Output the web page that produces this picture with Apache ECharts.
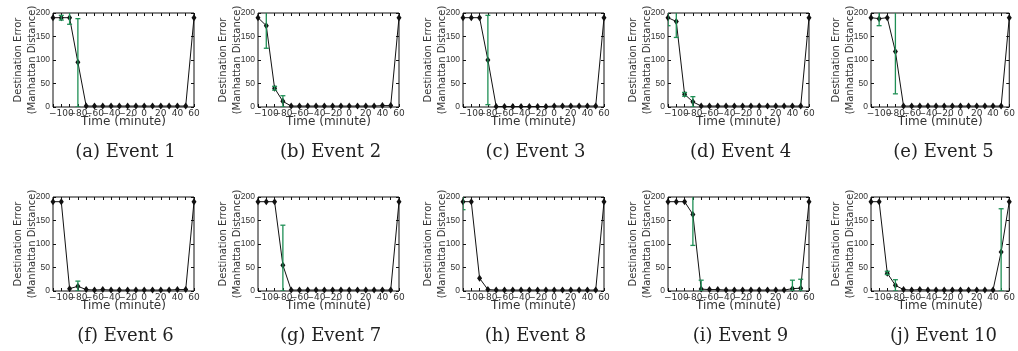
<!DOCTYPE html>
<html>
<head>
<meta charset="utf-8">
<script src="https://cdn.jsdelivr.net/npm/echarts@6/dist/echarts.min.js"></script>
<style>
html, body { margin: 0; padding: 0; background: #fff; }
#main { width: 1018px; height: 351px; }
</style>
</head>
<body>
<div id="main"></div>
<script>
// time offsets (minutes) shared by every panel
const minutes = [-110, -100, -90, -80, -70, -60, -50, -40, -30, -20, -10, 0, 10, 20, 30, 40, 50, 60];
const yTicks = [0, 50, 100, 150, 200];

// mean destination error per event
const ev1 = [190, 190, 190, 95, 2, 2, 2, 2, 2, 2, 2, 2, 2, 2, 2, 2, 2, 190];
const ev2 = [190, 173, 40, 12, 2, 2, 2, 2, 2, 2, 2, 2, 2, 2, 2, 3, 3, 190];
const ev3 = [190, 190, 190, 100, 1, 1, 1, 1, 1, 1, 1, 2, 2, 2, 2, 2, 2, 190];
const ev4 = [190, 182, 27, 11, 2, 2, 2, 2, 2, 2, 2, 2, 2, 2, 2, 2, 2, 190];
const ev5 = [190, 188, 190, 118, 2, 2, 2, 2, 2, 2, 2, 2, 2, 2, 2, 2, 2, 190];
const ev6 = [190, 190, 5, 10, 3, 2, 3, 2, 2, 2, 2, 2, 2, 2, 2, 3, 3, 190];
const ev7 = [190, 190, 190, 55, 2, 2, 2, 2, 2, 2, 2, 2, 2, 2, 2, 2, 2, 190];
const ev8 = [190, 190, 27, 3, 2, 2, 2, 2, 2, 2, 2, 2, 2, 2, 2, 2, 2, 190];
const ev9 = [190, 190, 190, 163, 4, 3, 3, 2, 2, 2, 2, 2, 2, 2, 2, 5, 6, 190];
const ev10 = [190, 190, 38, 12, 3, 2, 3, 2, 2, 2, 2, 2, 2, 2, 2, 2, 83, 190];

// error bars: [minute, low, high]
const err1 = [[-100, 185, 195], [-90, 176, 215], [-80, 0, 188]];
const err2 = [[-100, 125, 220], [-90, 36, 44], [-80, 0, 24]];
const err3 = [[-80, 5, 195]];
const err4 = [[-110, 173, 207], [-100, 148, 216], [-90, 23, 31], [-80, 0, 22]];
const err5 = [[-100, 173, 203], [-80, 28, 208]];
const err6 = [[-80, 0, 21]];
const err7 = [[-80, 0, 140]];
const err8 = [[-110, 173, 207]];
const err9 = [[-80, 97, 230], [-70, 0, 23], [40, 0, 23], [50, 0, 25]];
const err10 = [[-90, 35, 42], [-80, 0, 24], [50, 0, 175]];

const captions = ['(a) Event 1', '(b) Event 2', '(c) Event 3', '(d) Event 4', '(e) Event 5',
                  '(f) Event 6', '(g) Event 7', '(h) Event 8', '(i) Event 9', '(j) Event 10'];

const events = [ev1, ev2, ev3, ev4, ev5, ev6, ev7, ev8, ev9, ev10];
const errors = [err1, err2, err3, err4, err5, err6, err7, err8, err9, err10];

const colLeft = [53, 258, 463, 668, 871];
const rowTop = [13, 197];
const plotW = 141, plotH = 94;
const green = '#1f8f55';
const font = 'DejaVu Sans';

function renderErr(params, api) {
    const x = api.value(0);
    const lo = api.coord([x, api.value(1)]);
    const hi = api.coord([x, api.value(2)]);
    const c = 2.5;
    const st = { stroke: green, lineWidth: 1.3 };
    return {
        type: 'group',
        children: [
            { type: 'line', shape: { x1: lo[0], y1: lo[1], x2: hi[0], y2: hi[1] }, style: st },
            { type: 'line', shape: { x1: lo[0] - c, y1: lo[1], x2: lo[0] + c, y2: lo[1] }, style: st },
            { type: 'line', shape: { x1: hi[0] - c, y1: hi[1], x2: hi[0] + c, y2: hi[1] }, style: st }
        ]
    };
}

const grid = [], xAxis = [], yAxis = [], series = [], graphic = [];

events.forEach((ev, i) => {
    const left = colLeft[i % 5];
    const top = rowTop[Math.floor(i / 5)];
    grid.push({ left: left, top: top, width: plotW, height: plotH, show: true,
                borderColor: '#111', borderWidth: 1, backgroundColor: 'transparent' });

    const tick = { show: true, inside: true, length: 3, lineStyle: { color: '#111' } };
    const noLine = { show: false, onZero: false };
    xAxis.push({
        type: 'value', gridIndex: i, min: -110, max: 60, interval: 10, position: 'bottom',
        name: 'Time (minute)', nameLocation: 'middle', nameGap: 9, nameMoveOverlap: false,
        nameTextStyle: { fontFamily: font, fontSize: 12, color: '#333', verticalAlign: 'top' },
        axisLine: noLine, axisTick: tick, splitLine: { show: false },
        axisLabel: { fontFamily: font, fontSize: 9, color: '#333', margin: 2,
                     showMinLabel: true, showMaxLabel: true, hideOverlap: false,
                     formatter: v => (v % 20 === 0 ? String(v).replace('-', '\u2212') : '') }
    });
    xAxis.push({
        type: 'value', gridIndex: i, min: -110, max: 60, interval: 10, position: 'top',
        axisLine: noLine, axisTick: tick, axisLabel: { show: false }, splitLine: { show: false }
    });
    yAxis.push({
        type: 'value', gridIndex: i, min: 0, max: 200, interval: 50, position: 'left',
        name: 'Destination Error\n(Manhattan Distance)', nameLocation: 'middle', nameGap: 14,
        nameMoveOverlap: false,
        nameTextStyle: { fontFamily: font, fontSize: 10, color: '#333', lineHeight: 14 },
        axisLine: noLine, axisTick: tick, splitLine: { show: false },
        axisLabel: { fontFamily: 'Liberation Sans', fontSize: 8.5, color: '#333', margin: 3,
                     showMinLabel: true, showMaxLabel: true }
    });
    yAxis.push({
        type: 'value', gridIndex: i, min: 0, max: 200, interval: 50, position: 'right',
        axisLine: noLine, axisTick: tick, axisLabel: { show: false }, splitLine: { show: false }
    });

    series.push({
        type: 'line', xAxisIndex: 2 * i, yAxisIndex: 2 * i,
        data: minutes.map((m, k) => [m, ev[k]]),
        symbol: 'diamond', symbolSize: [5, 7], showAllSymbol: true,
        lineStyle: { color: '#111', width: 1 },
        itemStyle: { color: '#111' },
        z: 2
    });
    series.push({
        type: 'custom', xAxisIndex: 2 * i, yAxisIndex: 2 * i,
        data: errors[i], renderItem: renderErr, clip: true,
        encode: { x: 0, y: [1, 2] }, z: 3
    });

    graphic.push({
        type: 'text', x: left + plotW / 2 + 2, y: top + 139,
        style: { text: captions[i], font: '18px "DejaVu Serif"', fill: '#222',
                 textAlign: 'center', textVerticalAlign: 'middle' }
    });
});

const chart = echarts.init(document.getElementById('main'));
chart.setOption({
    animation: false,
    backgroundColor: '#fff',
    grid: grid,
    xAxis: xAxis,
    yAxis: yAxis,
    series: series,
    graphic: graphic
});
</script>
</body>
</html>
